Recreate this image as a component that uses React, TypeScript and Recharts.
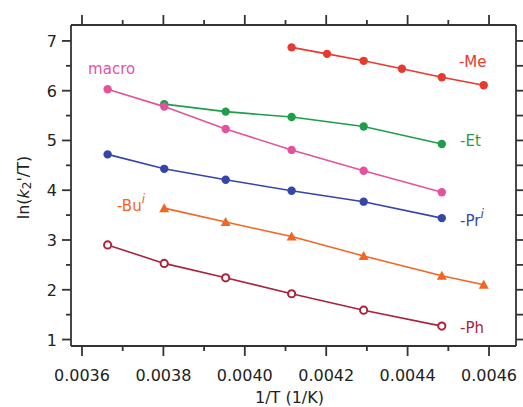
import React from "react";
import {
  ComposedChart,
  Scatter,
  XAxis,
  YAxis,
  ReferenceDot,
} from "recharts";

// Reciprocal temperatures (1/K) at which rates were measured
const INV_T = [0.003663, 0.003802, 0.003953, 0.004115, 0.004202, 0.004292, 0.004386, 0.004484, 0.004587];

// ln(k2'/T) for each substituent; null where no measurement exists
const ME = [null, null, null, 6.87, 6.74, 6.6, 6.44, 6.27, 6.11];
const ET = [null, 5.73, 5.58, 5.47, null, 5.28, null, 4.93, null];
const MACRO = [6.03, 5.68, 5.23, 4.81, null, 4.39, null, 3.96, null];
const PR = [4.72, 4.43, 4.21, 3.99, null, 3.77, null, 3.44, null];
const BU = [null, 3.64, 3.36, 3.07, null, 2.68, null, 2.28, 2.1];
const PH = [2.9, 2.53, 2.24, 1.92, null, 1.59, null, 1.27, null];

const X_TICKS = [0.0036, 0.0037, 0.0038, 0.0039, 0.004, 0.0041, 0.0042, 0.0043, 0.0044, 0.0045, 0.0046];
const Y_TICKS = [1, 1.5, 2, 2.5, 3, 3.5, 4, 4.5, 5, 5.5, 6, 6.5, 7];
const X_DOMAIN: [number, number] = [0.003573, 0.0046663];
const Y_DOMAIN: [number, number] = [0.87, 7.32];

const FONT = "DejaVu Sans";
const AXIS = "#333333";

const toPoints = (ys: (number | null)[]) =>
  INV_T.map((x, i) => ({ x, y: ys[i] })).filter((p) => p.y !== null) as { x: number; y: number }[];

const isMajorX = (v: number) => Math.round(v * 10000) % 2 === 0;
const isMajorY = (v: number) => Math.abs(v - Math.round(v)) < 1e-6;

const BottomTick = (props: any) => {
  const { x, y, payload } = props;
  const major = isMajorX(payload.value);
  return (
    <g>
      <line x1={x} x2={x} y1={y} y2={y + (major ? 10 : 5)} stroke={AXIS} strokeWidth={1.8} />
      {major && (
        <text x={x} y={y + 35} textAnchor="middle" fontFamily={FONT} fontSize={16} fill="#222">
          {payload.value.toFixed(4)}
        </text>
      )}
    </g>
  );
};

const TopTick = (props: any) => {
  const { x, y, payload } = props;
  const major = isMajorX(payload.value);
  return <line x1={x} x2={x} y1={y} y2={y - (major ? 10 : 5)} stroke={AXIS} strokeWidth={1.8} />;
};

const LeftTick = (props: any) => {
  const { x, y, payload } = props;
  const major = isMajorY(payload.value);
  return (
    <g>
      <line x1={x} x2={x - (major ? 9 : 5)} y1={y} y2={y} stroke={AXIS} strokeWidth={1.8} />
      {major && (
        <text x={x - 14} y={y + 6} textAnchor="end" fontFamily={FONT} fontSize={16} fill="#222">
          {payload.value}
        </text>
      )}
    </g>
  );
};

const RightTick = (props: any) => {
  const { x, y } = props;
  return <line x1={x} x2={x + 7} y1={y} y2={y} stroke={AXIS} strokeWidth={1.8} />;
};

const dot = (color: string) => (p: any) => <circle cx={p.cx} cy={p.cy} r={4.2} fill={color} />;
const ring = (color: string) => (p: any) => (
  <circle cx={p.cx} cy={p.cy} r={3.6} fill="#fff" stroke={color} strokeWidth={2} />
);
const tri = (color: string) => (p: any) => (
  <polygon
    points={`${p.cx},${p.cy - 5} ${p.cx - 5},${p.cy + 4} ${p.cx + 5},${p.cy + 4}`}
    fill={color}
  />
);

type Series = { name: string; ys: (number | null)[]; color: string; shape: (c: string) => any };

const SERIES: Series[] = [
  { name: "Me", ys: ME, color: "#e63a30", shape: dot },
  { name: "Et", ys: ET, color: "#1f9e4a", shape: dot },
  { name: "macro", ys: MACRO, color: "#e4529e", shape: dot },
  { name: "Pr", ys: PR, color: "#3545a8", shape: dot },
  { name: "Bu", ys: BU, color: "#f26522", shape: tri },
  { name: "Ph", ys: PH, color: "#a8233c", shape: ring },
];

// Series labels anchored in data coordinates (left edge, vertical centre)
const LABELS = [
  { x: 0.004526, y: 6.58, color: "#e63a30", text: "-Me", sup: "" },
  { x: 0.004529, y: 4.99, color: "#1f9e4a", text: "-Et", sup: "" },
  { x: 0.003615, y: 6.44, color: "#e4529e", text: "macro", sup: "" },
  { x: 0.004529, y: 3.4, color: "#3545a8", text: "-Pr", sup: "i" },
  { x: 0.003686, y: 3.7, color: "#f26522", text: "-Bu", sup: "i" },
  { x: 0.004529, y: 1.25, color: "#a8233c", text: "-Ph", sup: "" },
];

const labelShape = (l: (typeof LABELS)[number]) => (p: any) => (
  <text x={p.cx} y={p.cy + 5.5} fontFamily={FONT} fontSize={15} fill={l.color}>
    {l.text}
    {l.sup && (
      <tspan fontStyle="italic" fontSize={12} dy={-8}>
        {l.sup}
      </tspan>
    )}
  </text>
);

export default function App() {
  return (
    <div style={{ position: "absolute", left: 0, top: 0, background: "#fff" }}>
      <ComposedChart width={523} height={407} margin={{ top: 0, right: 0, bottom: 0, left: 0 }}>
        <XAxis
          xAxisId="b"
          dataKey="x"
          type="number"
          orientation="bottom"
          domain={X_DOMAIN}
          ticks={X_TICKS}
          interval={0}
          allowDataOverflow
          height={61}
          tickSize={0}
          tickMargin={0}
          tickLine={false}
          tick={<BottomTick />}
          axisLine={{ stroke: AXIS, strokeWidth: 1.8 }}
          label={{
            content: (p: any) => (
              <text
                x={p.viewBox.x + p.viewBox.width / 2 - 4}
                y={p.viewBox.y + 57}
                textAnchor="middle"
                fontFamily={FONT}
                fontSize={16}
                fill="#222"
              >
                1/T (1/K)
              </text>
            ),
          }}
        />
        <XAxis
          xAxisId="t"
          dataKey="x"
          type="number"
          orientation="top"
          domain={X_DOMAIN}
          ticks={X_TICKS}
          interval={0}
          allowDataOverflow
          height={25}
          tickSize={0}
          tickMargin={0}
          tickLine={false}
          tick={<TopTick />}
          axisLine={{ stroke: AXIS, strokeWidth: 1.8 }}
        />
        <YAxis
          yAxisId="l"
          dataKey="y"
          type="number"
          orientation="left"
          domain={Y_DOMAIN}
          ticks={Y_TICKS}
          interval={0}
          allowDataOverflow
          width={71}
          tickSize={0}
          tickMargin={0}
          tickLine={false}
          tick={<LeftTick />}
          axisLine={{ stroke: AXIS, strokeWidth: 1.8 }}
          label={{
            content: (p: any) => {
              const cx = p.viewBox.x + 23;
              const cy = p.viewBox.y + p.viewBox.height / 2 + 2;
              return (
                <text
                  x={cx}
                  y={cy}
                  transform={`rotate(-90 ${cx} ${cy})`}
                  textAnchor="middle"
                  dominantBaseline="central"
                  fontFamily={FONT}
                  fontSize={16}
                  fill="#222"
                >
                  ln(
                  <tspan fontStyle="italic">k</tspan>
                  <tspan fontSize={12} dy={4}>2</tspan>
                  <tspan dy={-4}>'/T)</tspan>
                </text>
              );
            },
          }}
        />
        <YAxis
          yAxisId="r"
          dataKey="y"
          type="number"
          orientation="right"
          domain={Y_DOMAIN}
          ticks={Y_TICKS}
          interval={0}
          allowDataOverflow
          width={7}
          tickSize={0}
          tickMargin={0}
          tickLine={false}
          tick={<RightTick />}
          axisLine={{ stroke: AXIS, strokeWidth: 1.8 }}
        />
        {SERIES.map((s) => (
          <Scatter
            key={s.name}
            name={s.name}
            xAxisId="b"
            yAxisId="l"
            data={toPoints(s.ys)}
            fill={s.color}
            line={{ stroke: s.color, strokeWidth: 1.6 }}
            shape={s.shape(s.color)}
            isAnimationActive={false}
          />
        ))}
        {LABELS.map((l) => (
          <ReferenceDot
            key={l.text}
            xAxisId="b"
            yAxisId="l"
            x={l.x}
            y={l.y}
            r={0}
            ifOverflow="visible"
            shape={labelShape(l)}
          />
        ))}
      </ComposedChart>
    </div>
  );
}
